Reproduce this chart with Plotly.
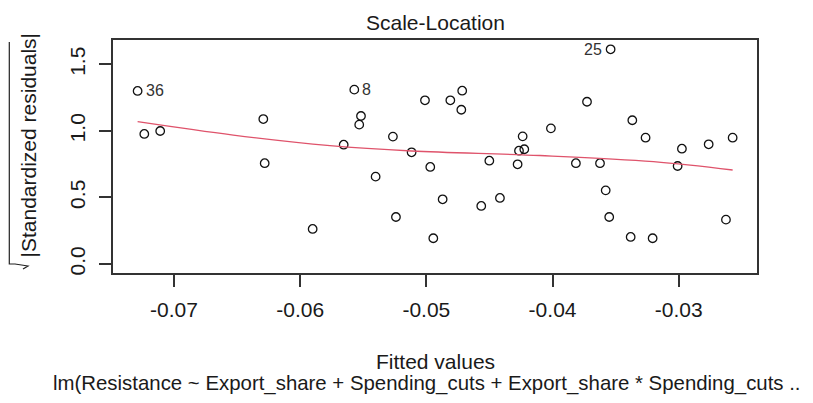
import plotly.graph_objects as go

# ---- data ----
fitted = [-0.07288, -0.07235, -0.07109, -0.06292, -0.06281, -0.05901,
          -0.05571, -0.05518, -0.05532, -0.05655, -0.05265, -0.05402, -0.05117, -0.05241,
          -0.05011, -0.04969, -0.04945, -0.04871, -0.04810, -0.04716, -0.04723, -0.04501,
          -0.04565, -0.04417, -0.04277, -0.04266, -0.04224, -0.04237, -0.04013,
          -0.03540, -0.03727, -0.03815, -0.03624, -0.03579, -0.03551, -0.03368, -0.03381,
          -0.03263, -0.03207, -0.02975, -0.03009, -0.02763, -0.02573, -0.02626]
sqrt_abs_std_resid = [1.300, 0.977, 0.999, 1.089, 0.757, 0.263,
                      1.310, 1.112, 1.047, 0.896, 0.957, 0.656, 0.839, 0.353,
                      1.230, 0.729, 0.193, 0.486, 1.230, 1.302, 1.159, 0.776,
                      0.436, 0.496, 0.749, 0.851, 0.862, 0.959, 1.019,
                      1.613, 1.219, 0.757, 0.757, 0.553, 0.353, 1.080, 0.203,
                      0.949, 0.193, 0.866, 0.736, 0.899, 0.949, 0.333]
smooth_x = [-0.07288, -0.06530, -0.05764, -0.05117, -0.04100, -0.03200, -0.02573]
smooth_y = [1.069, 0.968, 0.889, 0.849, 0.815, 0.769, 0.706]
id_labels = ["36", "8", "25"]
id_index = [0, 6, 29]
id_side = ["right", "right", "left"]
x_ticks = [-0.07, -0.06, -0.05, -0.04, -0.03]
y_ticks = [0.0, 0.5, 1.0, 1.5]
title_text = "Scale-Location"
x_title = "Fitted values"
y_title = "|Standardized residuals|"
sub_caption = "lm(Resistance ~ Export_share + Spending_cuts + Export_share * Spending_cuts .."

# ---- layout geometry (pixels) ----
W, H = 813, 403
L, R, T, B = 113, 757, 40, 273
pw, ph = R - L, B - T

def px(x):
    return (x - L) / pw

def py(y):
    return (B - y) / ph

FONT = "Arial, Liberation Sans, sans-serif"
TXT = "#1a1a1a"
FS = 21

fig = go.Figure()
fig.add_trace(go.Scatter(
    x=fitted, y=sqrt_abs_std_resid, mode="markers",
    marker=dict(symbol="circle-open", size=8.5, color="#111111", line=dict(width=1.3, color="#111111")),
    showlegend=False, hoverinfo="skip"))
fig.add_trace(go.Scatter(
    x=smooth_x, y=smooth_y, mode="lines", line=dict(color="#DF536B", width=1.3, shape="spline"),
    showlegend=False, hoverinfo="skip"))

annotations = []
for lab, i, side in zip(id_labels, id_index, id_side):
    annotations.append(dict(
        x=fitted[i], y=sqrt_abs_std_resid[i], xref="x", yref="y", text=lab, showarrow=False,
        xanchor="left" if side == "right" else "right", yanchor="middle",
        xshift=6 if side == "right" else -7, yshift=0,
        font=dict(family=FONT, size=16, color="#333333")))

annotations += [
    dict(x=0.5, y=py(22.7), xref="paper", yref="paper", text=title_text, showarrow=False,
         xanchor="center", yanchor="middle", font=dict(family=FONT, size=FS, color=TXT)),
    dict(x=px(435), y=py(361), xref="paper", yref="paper", text=x_title, showarrow=False,
         xanchor="center", yanchor="middle", font=dict(family=FONT, size=FS, color=TXT)),
    dict(x=px(51), y=py(383), xref="paper", yref="paper", text=sub_caption, showarrow=False,
         xanchor="left", yanchor="middle", font=dict(family=FONT, size=20.4, color=TXT)),
    dict(x=px(28), y=py(145.5), xref="paper", yref="paper", text=y_title, showarrow=False,
         textangle=-90, xanchor="center", yanchor="middle", font=dict(family=FONT, size=FS, color=TXT)),
]

# radical sign drawn as a path (rotated square-root with over-bar)
def P(x, y):
    return f"{px(x)},{py(y)}"

rad_path = f"M {P(9.3, 42)} L {P(9.3, 264)} L {P(15, 264)} L {P(28, 266)} L {P(23, 269)}"
shapes = [dict(type="path", xref="paper", yref="paper", path=rad_path,
               line=dict(color="#222222", width=1.2))]

axis_common = dict(showgrid=False, zeroline=False, showline=True, linecolor="#333333",
                   linewidth=1.6, mirror=True, ticks="outside", ticklen=12, tickwidth=1.6,
                   tickcolor="#333333", tickfont=dict(family=FONT, size=FS, color=TXT))

fig.update_layout(
    width=W, height=H, margin=dict(l=L, r=W - R, t=T, b=H - B, pad=0),
    paper_bgcolor="white", plot_bgcolor="white",
    xaxis=dict(range=[-0.07483, -0.0238], tickvals=x_ticks,
               ticktext=[f"{v:.2f}" for v in x_ticks], ticklabelstandoff=5, **axis_common),
    yaxis=dict(range=[-0.068, 1.683], tickvals=y_ticks,
               ticktext=[f"{v:.1f}" for v in y_ticks], tickangle=-90, ticklabelstandoff=6, **axis_common),
    annotations=annotations, shapes=shapes)

fig.write_html("out.html")
